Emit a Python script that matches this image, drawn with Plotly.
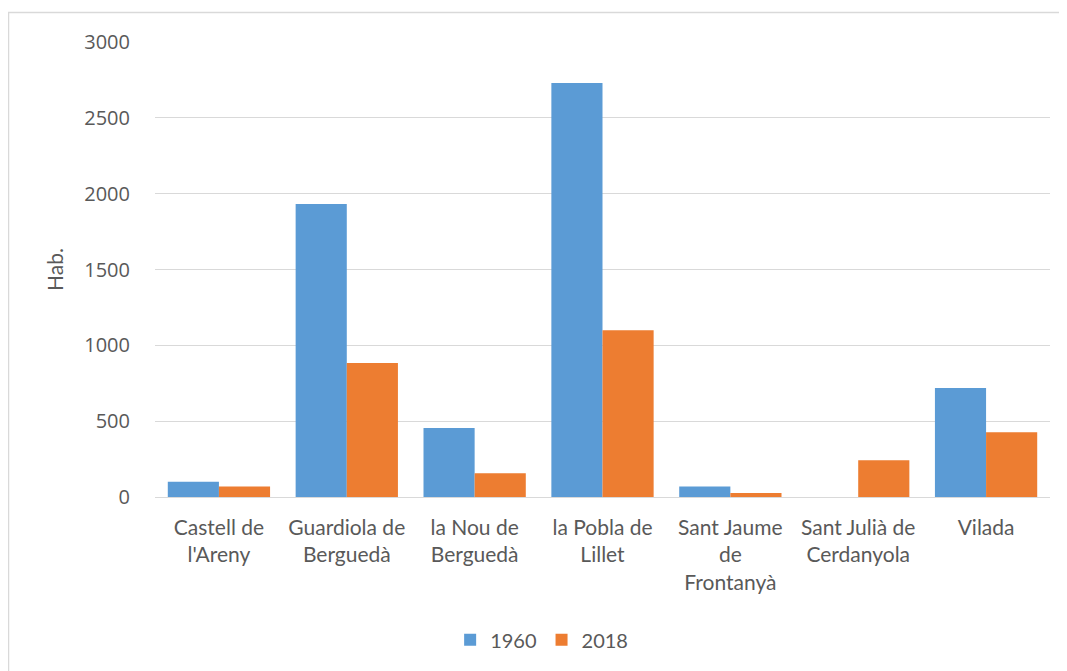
import plotly.graph_objects as go

categories = ["Castell de<br>l'Areny", "Guardiola de<br>Berguedà", "la Nou de<br>Berguedà",
              "la Pobla de<br>Lillet", "Sant Jaume<br>de<br>Frontanyà", "Sant Julià de<br>Cerdanyola", "Vilada"]
values_1960 = [101, 1932, 455, 2730, 70, None, 718]
values_2018 = [70, 883, 156, 1099, 26, 242, 427]
y_ticks = [0, 500, 1000, 1500, 2000, 2500, 3000]

font_main = "Lato, Liberation Sans, sans-serif"
font_num = "Open Sans, DejaVu Sans, sans-serif"
text_color = "#595959"

fig = go.Figure()
fig.add_trace(go.Bar(name="1960", x=categories, y=values_1960, marker=dict(color="#5B9BD5", line=dict(width=0))))
fig.add_trace(go.Bar(name="2018", x=categories, y=values_2018, marker=dict(color="#ED7D31", line=dict(width=0))))

fig.update_layout(
    width=1059, height=663,
    barmode="group", bargap=0.2, bargroupgap=0,
    plot_bgcolor="white", paper_bgcolor="white",
    margin=dict(l=147, r=17, t=34, b=174),
    font=dict(family=font_main, color=text_color, size=20),
    xaxis=dict(showgrid=False, showline=False, ticks="", ticklabelstandoff=16,
               tickfont=dict(size=21, family=font_main, color=text_color)),
    yaxis=dict(range=[0, 3000], tickvals=y_ticks, showgrid=True, gridcolor="#D9D9D9", gridwidth=1,
               zeroline=True, zerolinecolor="#D9D9D9", zerolinewidth=1, ticks="",
               ticklabelstandoff=24,
               tickfont=dict(size=20, family=font_num, color=text_color),
               title=dict(text="Hab.", font=dict(size=21, family=font_main, color=text_color), standoff=14)),
    legend=dict(orientation="h", x=0.432, xanchor="center", y=-0.314, yanchor="middle",
                font=dict(size=20, family=font_main, color=text_color), itemwidth=30),
    shapes=[dict(type="rect", xref="paper", yref="paper", x0=-0.1637, x1=1.06, y0=-0.5, y1=1.065,
                 line=dict(color="#D9D9D9", width=1.5), fillcolor="rgba(0,0,0,0)", layer="below")],
)

fig.write_html("out.html")
